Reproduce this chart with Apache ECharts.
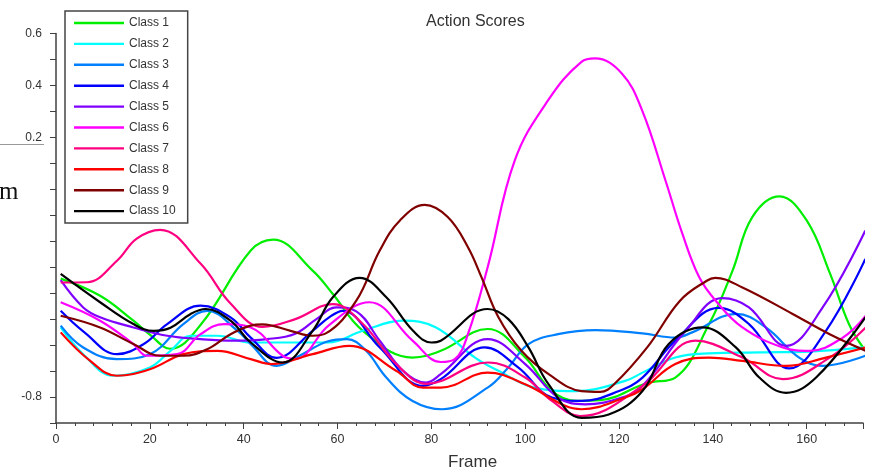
<!DOCTYPE html>
<html>
<head>
<meta charset="utf-8">
<script src="https://cdn.jsdelivr.net/npm/echarts@6.0.0/dist/echarts.min.js"></script>
<style>
  html, body { margin: 0; padding: 0; background: #fff; }
  #main { width: 872px; height: 476px; }
</style>
</head>
<body>
<div id="main"></div>
<script>
// scores: [frame, score]
const class1 = [[1,-0.344],[9.4,-0.41],[16.5,-0.506],[20,-0.56],[24.4,-0.614],[31,-0.518],[41.5,-0.236],[46.3,-0.194],[54.7,-0.313],[59,-0.403],[65.4,-0.545],[76,-0.648],[82,-0.622],[92,-0.538],[100,-0.648],[105.7,-0.777],[111,-0.815],[116,-0.812],[126,-0.746],[132,-0.725],[139.2,-0.519],[144.2,-0.313],[148.4,-0.107],[154.2,-0.027],[160,-0.12],[165,-0.326],[169,-0.519],[172,-0.609]];
const class2 = [[1,-0.532],[5.8,-0.635],[12.2,-0.718],[20,-0.686],[24.4,-0.622],[28.7,-0.564],[34.4,-0.564],[41.5,-0.59],[50,-0.59],[58,-0.59],[65.4,-0.545],[74,-0.506],[81,-0.532],[89.3,-0.648],[94.3,-0.699],[102,-0.764],[110.7,-0.777],[121.3,-0.738],[125,-0.706],[132,-0.648],[139,-0.632],[150,-0.628],[160.6,-0.625],[172,-0.609]];
const class3 = [[1,-0.525],[5.8,-0.609],[13,-0.654],[20,-0.635],[27.2,-0.518],[32.2,-0.468],[38.7,-0.545],[41.5,-0.596],[47,-0.68],[52,-0.64],[58,-0.585],[62,-0.577],[66,-0.62],[70.4,-0.725],[76,-0.815],[82.3,-0.847],[92,-0.764],[96.4,-0.686],[100.7,-0.596],[107,-0.558],[115,-0.542],[125,-0.555],[132,-0.571],[135.6,-0.551],[145,-0.48],[151.3,-0.532],[158.4,-0.648],[163.4,-0.68],[172.5,-0.641]];
const class4 = [[1,-0.468],[6,-0.55],[13,-0.635],[18.7,-0.596],[23.7,-0.519],[30.8,-0.448],[37.2,-0.493],[41.5,-0.571],[47,-0.649],[54.7,-0.545],[58.2,-0.493],[61.1,-0.468],[69,-0.609],[78.2,-0.757],[82,-0.731],[91.4,-0.609],[98.5,-0.686],[105.7,-0.802],[112,-0.815],[120,-0.777],[125,-0.725],[132,-0.583],[141.3,-0.457],[147.7,-0.519],[156.3,-0.69],[164.1,-0.545],[172.5,-0.268]];
const class5 = [[1,-0.35],[5.8,-0.455],[9.4,-0.493],[16.5,-0.532],[23.7,-0.564],[30.8,-0.577],[37.9,-0.583],[45,-0.577],[51,-0.556],[55.5,-0.5],[59.7,-0.455],[64,-0.47],[69,-0.583],[74,-0.699],[78.9,-0.744],[82,-0.712],[92,-0.577],[100,-0.673],[107,-0.802],[112.8,-0.828],[120.6,-0.802],[125,-0.757],[134.2,-0.545],[142,-0.419],[147.7,-0.455],[155.6,-0.603],[163.4,-0.455],[172.5,-0.159]];
const class6 = [[1,-0.435],[9.4,-0.506],[16.5,-0.596],[19.4,-0.641],[25.8,-0.635],[30.8,-0.558],[35.8,-0.519],[41.5,-0.532],[48.3,-0.641],[51,-0.653],[58.2,-0.523],[66.8,-0.435],[76,-0.583],[82,-0.665],[85,-0.654],[87.8,-0.558],[92,-0.3],[97.8,0.112],[104.9,0.343],[112,0.491],[114.9,0.504],[120.6,0.446],[124.9,0.305],[129.9,0.034],[133.5,-0.171],[137.1,-0.339],[140.6,-0.429],[146.3,-0.532],[154.9,-0.609],[160.6,-0.622],[167.7,-0.571],[172.6,-0.487]];
const class7 = [[1,-0.359],[6.6,-0.358],[13,-0.275],[17.2,-0.19],[22.2,-0.156],[30.8,-0.286],[37.2,-0.44],[44,-0.53],[51,-0.5],[59,-0.442],[65.4,-0.519],[72.5,-0.673],[79,-0.749],[92.1,-0.667],[100,-0.725],[105.7,-0.815],[111.7,-0.873],[125,-0.757],[136.3,-0.583],[146.3,-0.648],[154.9,-0.731],[164.9,-0.648],[172.6,-0.532]];
const class8 = [[1,-0.551],[7.3,-0.661],[13,-0.718],[20,-0.693],[27.2,-0.635],[34.4,-0.622],[41.5,-0.654],[46,-0.673],[54.7,-0.635],[62.5,-0.603],[72.5,-0.699],[78.2,-0.764],[82,-0.764],[92,-0.706],[100,-0.751],[108.5,-0.834],[112,-0.847],[121.3,-0.802],[125,-0.77],[132,-0.673],[139.2,-0.648],[146.3,-0.661],[155.6,-0.68],[164.1,-0.648],[172.6,-0.609]];
const class9 = [[1,-0.487],[9.4,-0.532],[16.5,-0.596],[22.2,-0.641],[27.2,-0.641],[32.2,-0.616],[37.2,-0.558],[41.5,-0.525],[44,-0.52],[50,-0.545],[54.7,-0.564],[57.5,-0.555],[64,-0.429],[69,-0.236],[73.3,-0.12],[78.6,-0.06],[83.5,-0.107],[87.8,-0.223],[90.7,-0.339],[94.3,-0.493],[99.2,-0.622],[105,-0.712],[112,-0.777],[116,-0.78],[119,-0.75],[126,-0.609],[133,-0.429],[138.7,-0.352],[140.5,-0.341],[146.3,-0.378],[157,-0.48],[164.9,-0.558],[172.6,-0.622]];
const class10 = [[1,-0.326],[9.4,-0.435],[16.5,-0.519],[20.8,-0.545],[24.4,-0.533],[28.7,-0.48],[31.9,-0.461],[37.2,-0.506],[41.5,-0.59],[48.3,-0.667],[54.7,-0.545],[59,-0.416],[64.7,-0.341],[70.4,-0.416],[76.1,-0.545],[80,-0.59],[82,-0.583],[92,-0.461],[96.4,-0.5],[100.7,-0.609],[105,-0.751],[112,-0.88],[117.8,-0.867],[125,-0.777],[130.6,-0.596],[137.8,-0.532],[144.9,-0.609],[149.9,-0.725],[155.6,-0.784],[162,-0.725],[172.5,-0.493]];

const classNames = ['Class 1', 'Class 2', 'Class 3', 'Class 4', 'Class 5', 'Class 6', 'Class 7', 'Class 8', 'Class 9', 'Class 10'];
const classColors = ['#00ee00', '#00ffff', '#0080ff', '#0000ff', '#8000ff', '#ff00ff', '#ff0080', '#ff0000', '#800000', '#000000'];
const classData = [class1, class2, class3, class4, class5, class6, class7, class8, class9, class10];

// only these y ticks carry a label in the picture
const yTickLabels = ['0.6', '0.4', '0.2', '-0.8'];

const chart = echarts.init(document.getElementById('main'));

const series = classNames.map(function (name, i) {
    return {
        name: name,
        type: 'line',
        data: classData[i],
        smooth: 0.4,
        showSymbol: false,
        lineStyle: { width: 2.2, color: classColors[i] },
        itemStyle: { color: classColors[i] }
    };
});

chart.setOption({
    animation: false,
    backgroundColor: '#fff',
    title: {
        text: 'Action Scores',
        left: 421,
        top: 9,
        textStyle: { fontSize: 16, fontWeight: 'normal', color: '#333', fontFamily: 'Liberation Sans' }
    },
    legend: {
        orient: 'vertical',
        left: 65,
        top: 11,
        padding: [5, 12, 5, 9],
        itemGap: 6.9,
        itemWidth: 50,
        itemHeight: 14,
        icon: 'path://M0,0H50V2.4H0Z',
        borderColor: '#444',
        borderWidth: 1.5,
        backgroundColor: '#fff',
        textStyle: { fontSize: 12, lineHeight: 14, color: '#333', fontFamily: 'Liberation Sans' },
        data: classNames
    },
    grid: { left: 56, right: 9, top: 33.5, bottom: 53 },
    xAxis: {
        type: 'value',
        min: 0,
        max: 172,
        interval: 20,
        splitLine: { show: false },
        axisLine: { onZero: false, lineStyle: { color: '#404040', width: 1.5 } },
        axisTick: { length: 6, lineStyle: { color: '#404040' } },
        minorTick: { show: true, splitNumber: 5, length: 3, lineStyle: { color: '#404040' } },
        axisLabel: { fontSize: 12.5, color: '#333', margin: 10, showMaxLabel: false, fontFamily: 'Liberation Sans' }
    },
    yAxis: {
        type: 'value',
        min: -0.9,
        max: 0.6,
        interval: 0.1,
        splitLine: { show: false },
        axisLine: { show: true, onZero: false, lineStyle: { color: '#404040', width: 1.5 } },
        axisTick: { show: true, length: 6, lineStyle: { color: '#404040' } },
        axisLabel: {
            fontSize: 12,
            color: '#333',
            margin: 14,
            fontFamily: 'Liberation Sans',
            formatter: function (v) {
                const s = (Math.round(v * 10) / 10).toFixed(1);
                return yTickLabels.indexOf(s) >= 0 ? s : '';
            }
        }
    },
    graphic: [
        {
            type: 'text',
            left: 448,
            top: 454,
            style: { text: 'Frame', fontSize: 17, fill: '#333', fontFamily: 'Liberation Sans' }
        },
        {
            type: 'text',
            left: -1,
            top: 180,
            style: { text: 'm', fontSize: 25, fill: '#111', fontFamily: 'Liberation Serif' }
        },
        {
            type: 'line',
            shape: { x1: 0, y1: 144.5, x2: 44, y2: 144.5 },
            style: { stroke: '#999', lineWidth: 1 }
        }
    ],
    series: series
});
</script>
</body>
</html>
